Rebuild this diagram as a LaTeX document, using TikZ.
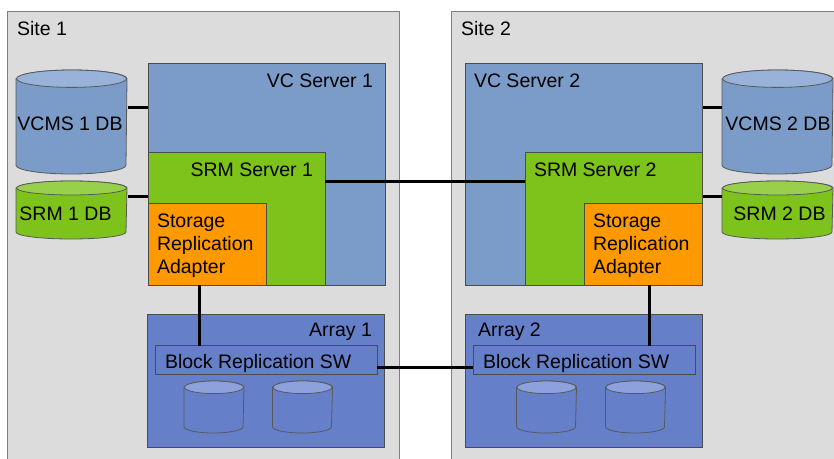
\documentclass[tikz,border=0pt]{standalone}
\usepackage{fontspec}
\setmainfont{Liberation Sans}
\definecolor{sitefill}{HTML}{DCDCDC}
\definecolor{siteline}{HTML}{7F7F7F}
\definecolor{vcblue}{HTML}{7B9BC8}
\definecolor{vctop}{HTML}{98B2D9}
\definecolor{srmgreen}{HTML}{7EC21C}
\definecolor{srmtop}{HTML}{98D04C}
\definecolor{sraorange}{HTML}{FF9900}
\definecolor{arrblue}{HTML}{6580C9}
\definecolor{arrtop}{HTML}{8DA2DD}
\tikzset{
  dbcyl/.style n args={4}{rectangle, path picture={
    \draw[black!65, fill=#3] ([xshift=.5pt, yshift=-#2-.5pt]path picture bounding box.north west)
      -- ([xshift=.5pt, yshift=#2+.5pt]path picture bounding box.south west)
      arc[start angle=180, end angle=360, x radius=#1, y radius=#2]
      -- ([xshift=-.5pt, yshift=-#2-.5pt]path picture bounding box.north east)
      arc[start angle=0, end angle=180, x radius=#1, y radius=#2] -- cycle;
    \draw[black!65, fill=#4] ([yshift=-#2-.5pt]path picture bounding box.north) ellipse[x radius=#1, y radius=#2];
  }}
}
\begin{document}
\begin{tikzpicture}[x=1pt, y=-1pt, line width=.8pt]
\tikzstyle{every node} = [inner sep=0pt, outer sep=0pt, font=\fontsize{19.5}{23}\selectfont]
\tikzstyle{site} = [rectangle, draw=siteline, fill=sitefill]
\tikzstyle{box} = [rectangle, draw=black!70]
\tikzstyle{wire} = [line width=3pt, black]
\useasboundingbox (0,0) rectangle (834,458);
\clip (0,0) rectangle (834,458);
% sites
\node[site, minimum width=392, minimum height=460] (site1) at (203,241) {};
\node[site, minimum width=400, minimum height=460] (site2) at (651,241) {};
\node[anchor=base west] (site1lbl) at (17,35) {Site 1};
\node[anchor=base west] (site2lbl) at (461,35) {Site 2};
% databases
\node[dbcyl={55pt}{8.7pt}{vcblue}{vctop}, minimum width=112, minimum height=105] (vcms1) at (71.5,122) {};
\node[dbcyl={55pt}{7pt}{srmgreen}{srmtop}, minimum width=112, minimum height=59] (srmdb1) at (71.5,210) {};
\node[dbcyl={55pt}{8.7pt}{vcblue}{vctop}, minimum width=112, minimum height=105] (vcms2) at (777.5,122) {};
\node[dbcyl={55pt}{7pt}{srmgreen}{srmtop}, minimum width=112, minimum height=59] (srmdb2) at (777.5,210) {};
\node (vcms1lbl) at (70,124) {VCMS 1 DB};
\node (srmdb1lbl) at (65.5,214) {SRM 1 DB};
\node (vcms2lbl) at (778,124) {VCMS 2 DB};
\node (srmdb2lbl) at (779.5,214) {SRM 2 DB};
% servers
\node[box, fill=vcblue, minimum width=237, minimum height=222] (vc1) at (266.5,174) {};
\node[box, fill=srmgreen, minimum width=177, minimum height=133] (srm1) at (236.5,218.5) {};
\node[box, fill=sraorange, minimum width=118, minimum height=82] (sra1) at (207,244) {};
\node[box, fill=vcblue, minimum width=237, minimum height=222] (vc2) at (584,174) {};
\node[box, fill=srmgreen, minimum width=177.5, minimum height=133] (srm2) at (614,218.5) {};
\node[box, fill=sraorange, minimum width=118.5, minimum height=82] (sra2) at (643.5,244) {};
\node[anchor=base east] (vc1lbl) at (373,87) {VC Server 1};
\node[anchor=base east] (srm1lbl) at (313,176) {SRM Server 1};
\node[anchor=west, align=left] (sra1lbl) at (157,246) {Storage\\Replication\\Adapter};
\node[anchor=base west] (vc2lbl) at (474,87) {VC Server 2};
\node[anchor=base west] (srm2lbl) at (534,176) {SRM Server 2};
\node[anchor=west, align=left] (sra2lbl) at (593,246) {Storage\\Replication\\Adapter};
% arrays
\node[box, fill=arrblue, minimum width=237, minimum height=133] (arr1) at (266,381) {};
\node[box, fill=arrblue, minimum width=222, minimum height=29] (brsw1) at (266,360) {};
\node[box, fill=arrblue, minimum width=237, minimum height=133] (arr2) at (584,381) {};
\node[box, fill=arrblue, minimum width=222, minimum height=29] (brsw2) at (584,360) {};
\node[anchor=base east] (arr1lbl) at (372,336) {Array 1};
\node[anchor=base west] (brsw1lbl) at (165,368) {Block Replication SW};
\node[anchor=base west] (arr2lbl) at (478,336) {Array 2};
\node[anchor=base west] (brsw2lbl) at (483,368) {Block Replication SW};
\foreach \n/\x in {d1/214, d2/302.5, d3/546.5, d4/635.5}
  \node[dbcyl={29.5pt}{6.3pt}{arrblue}{arrtop}, minimum width=61, minimum height=53] (\n) at (\x,407) {};
% links
\draw[wire] ([yshift=15pt]vcms1.east) -- ([yshift=15pt]vcms1.east -| vc1.west);
\draw[wire] ([yshift=14pt]srmdb1.east) -- ([yshift=14pt]srmdb1.east -| srm1.west);
\draw[wire] ([yshift=15pt]vcms2.west) -- ([yshift=15pt]vcms2.west -| vc2.east);
\draw[wire] ([yshift=14pt]srmdb2.west) -- ([yshift=14pt]srmdb2.west -| srm2.east);
\draw[wire] ([yshift=37.5pt]srm1.east) -- ([yshift=37.5pt]srm2.west);
\draw[wire] ([xshift=-8pt]sra1.south) -- ([xshift=-8pt]sra1.south |- brsw1.north);
\draw[wire] ([xshift=6pt]sra2.south) -- ([xshift=6pt]sra2.south |- brsw2.north);
\draw[wire] ([yshift=-7pt]brsw1.east) -- ([yshift=-7pt]brsw2.west);
\end{tikzpicture}
\end{document}
